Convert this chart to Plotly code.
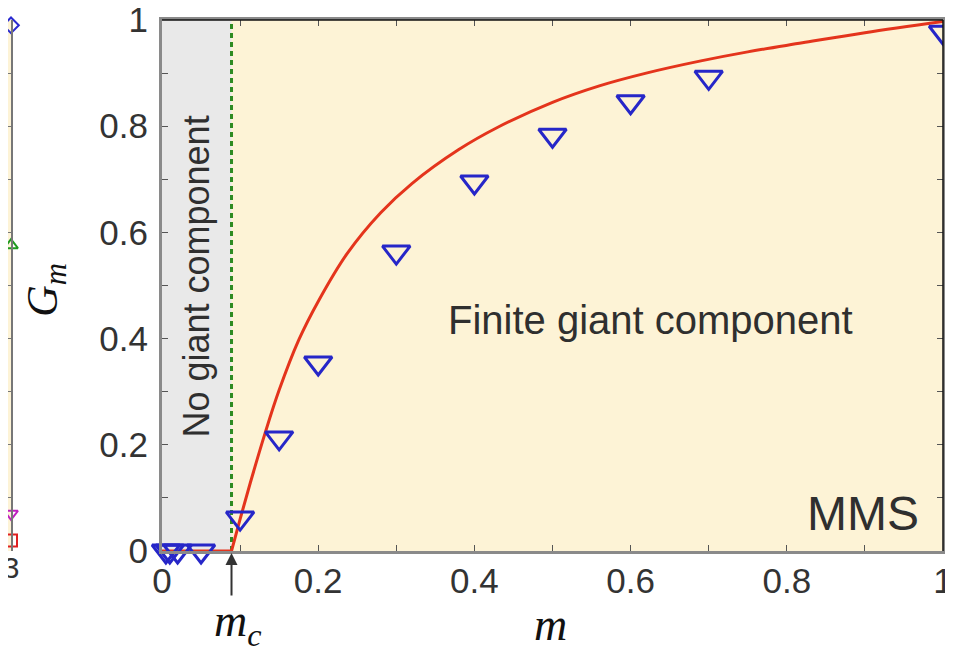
import plotly.graph_objects as go

# ---------------- data ----------------
m_c = 0.089

# simulation points (MMS)
sim_m = [0.005, 0.01, 0.02, 0.05, 0.10, 0.15, 0.20, 0.30, 0.40, 0.50, 0.60, 0.70, 1.00]
sim_g = [0.0, 0.0, 0.0, 0.0, 0.062, 0.213, 0.354, 0.563, 0.695, 0.783, 0.846, 0.892, 0.977]

# theory curve (above m_c)
curve_m = [0.089, 0.100, 0.113, 0.132, 0.150, 0.175, 0.200, 0.237, 0.280, 0.320,
           0.380, 0.430, 0.500, 0.560, 0.620, 0.690, 0.750, 0.820, 0.900, 1.000]
curve_g = [0.000, 0.060, 0.128, 0.222, 0.303, 0.397, 0.470, 0.560, 0.637, 0.692,
           0.756, 0.798, 0.845, 0.876, 0.900, 0.923, 0.940, 0.957, 0.976, 0.997]

flat_m = [0.0, m_c]
flat_g = [0.0, 0.0]

# neighbouring (cropped) panel markers at its right edge
left_y = [0.99, 0.576, 0.07, 0.02]
left_sym = ["diamond-open", "triangle-up-open", "triangle-down-open", "square-open"]
left_col = ["#2a2ad0", "#1f9a1f", "#c020c0", "#e02020"]

x_ticks = [0, 0.2, 0.4, 0.6, 0.8, 1]
x_ticktext = ["0", "0.2", "0.4", "0.6", "0.8", "1"]
y_ticks = [0, 0.2, 0.4, 0.6, 0.8, 1]
y_ticktext = ["0", "0.2", "0.4", "0.6", "0.8", "1"]

# ---------------- figure ----------------
OFF = 8                      # page body margin
W, H = 945, 644
def px(x):                   # reference pixel x -> paper
    return (x - OFF) / W
def py(y):                   # reference pixel y -> paper
    return (H - (y - OFF)) / H

x0p, x1p = px(162), px(943)
y0p, y1p = py(551), py(20)

fig = go.Figure()

# gray no-giant region
fig.add_shape(type="rect", xref="x", yref="y", x0=0, x1=m_c, y0=0, y1=1,
              fillcolor="#e9e9e9", line=dict(width=0), layer="below")

# green dashed line at m_c
fig.add_trace(go.Scatter(x=[m_c, m_c], y=[0, 1], mode="lines",
                         line=dict(color="#2e8b22", width=3, dash="5px,4px"),
                         hoverinfo="skip", showlegend=False, cliponaxis=False))

# red theory curve
fig.add_trace(go.Scatter(x=flat_m, y=flat_g, mode="lines",
                         line=dict(color="#e4341c", width=3), showlegend=False,
                         cliponaxis=False))
fig.add_trace(go.Scatter(x=curve_m, y=curve_g, mode="lines",
                         line=dict(color="#e4341c", width=3, shape="spline", smoothing=1.0),
                         showlegend=False, cliponaxis=False))

# simulation triangles
fig.add_trace(go.Scatter(x=sim_m, y=sim_g, mode="markers",
                         marker=dict(symbol="triangle-down-open", size=24,
                                     color="#2626c8", line=dict(width=3, color="#2626c8")),
                         showlegend=False, cliponaxis=False))

# cropped neighbouring panel
for yy, sy, cc in zip(left_y, left_sym, left_col):
    fig.add_trace(go.Scatter(x=[1.0], y=[yy], mode="markers", xaxis="x2", yaxis="y2",
                             marker=dict(symbol=sy, size=12, color=cc, line=dict(width=2, color=cc)),
                             showlegend=False, cliponaxis=False))

axis_font = dict(family="Liberation Sans, Arial, sans-serif", size=35, color="#333333")

fig.update_layout(
    width=W, height=H,
    margin=dict(l=0, r=0, t=0, b=0, autoexpand=False),
    paper_bgcolor="white",
    plot_bgcolor="#fdf3d6",
    xaxis=dict(domain=[x0p, x1p], range=[0, 1], showgrid=False, zeroline=False,
               showline=True, linecolor="#8a8a8a", linewidth=3, automargin=False,
               ticks="inside", ticklen=6, tickwidth=1, tickcolor="#555555",
               tickvals=x_ticks, ticktext=x_ticktext, tickfont=axis_font,
               minor=dict(dtick=0.1, ticks="inside", ticklen=6, tickcolor="#555555"),
               mirror="ticks", ticklabelstandoff=-3, ticklabeloverflow="allow"),
    yaxis=dict(domain=[y0p, y1p], range=[0, 1], showgrid=False, zeroline=False,
               showline=True, linecolor="#8a8a8a", linewidth=3, automargin=False,
               ticks="inside", ticklen=6, tickwidth=1, tickcolor="#555555",
               tickvals=y_ticks, ticktext=y_ticktext, tickfont=axis_font,
               minor=dict(dtick=0.1, ticks="inside", ticklen=6, tickcolor="#555555"),
               mirror="ticks", ticklabelstandoff=4, ticklabeloverflow="allow"),
    xaxis2=dict(domain=[0, 3 / W], range=[0, 1], showgrid=False, zeroline=False,
                showline=False, tickvals=[1.0], ticktext=["3"], ticks="",
                automargin=False, ticklabeloverflow="allow", ticklabelstandoff=-4,
                tickfont=dict(family="Liberation Sans, Arial, sans-serif", size=30, color="#333333"),
                anchor="y2"),
    yaxis2=dict(domain=[y0p, y1p], range=[0, 1], side="right", anchor="x2",
                showgrid=False, zeroline=False, showline=True, linecolor="#777777",
                linewidth=2, ticks="inside", ticklen=5, tickcolor="#777777",
                dtick=0.1, showticklabels=False, automargin=False),
)

# top / right thin black borders
fig.add_shape(type="line", xref="x domain", yref="y domain", x0=0, x1=1, y0=1, y1=1,
              line=dict(color="#111111", width=1.5))
fig.add_shape(type="line", xref="x domain", yref="y domain", x0=1, x1=1, y0=0, y1=1,
              line=dict(color="#111111", width=1.5))

text_font = dict(family="Liberation Sans, Arial, sans-serif", color="#2f2f2f")
serif = "Liberation Serif, Times New Roman, serif"
C = dict(xanchor="center", yanchor="middle", showarrow=False)

fig.add_annotation(x=0.625, y=0.435, xref="x", yref="y", text="Finite giant component",
                   font=dict(size=40, **text_font), **C)
fig.add_annotation(x=0.043, y=0.516, xref="x", yref="y", text="No giant component",
                   textangle=-90, font=dict(size=36, **text_font), **C)
fig.add_annotation(x=0.898, y=0.07, xref="x", yref="y", text="MMS",
                   font=dict(size=48, **text_font), **C)

# axis titles
fig.add_annotation(x=px(45), y=py(290), xref="paper", yref="paper",
                   text="<i>G</i><sub><i>m</i></sub>", textangle=-90,
                   font=dict(family=serif, size=44, color="#111111"), **C)
fig.add_annotation(x=px(550), y=py(624), xref="paper", yref="paper",
                   text="<i>m</i>",
                   font=dict(family=serif, size=46, color="#111111"), **C)
fig.add_annotation(x=px(238), y=py(624), xref="paper", yref="paper",
                   text="<i>m</i><sub><i>c</i></sub>",
                   font=dict(family=serif, size=46, color="#111111"), **C)

# arrow pointing at m_c
fig.add_annotation(x=m_c, y=0, xref="x", yref="y", text="", showarrow=True,
                   ax=0, ay=46, arrowhead=2, arrowsize=1.2, arrowwidth=2,
                   arrowcolor="#333333", standoff=2)

fig.write_html("out.html")
